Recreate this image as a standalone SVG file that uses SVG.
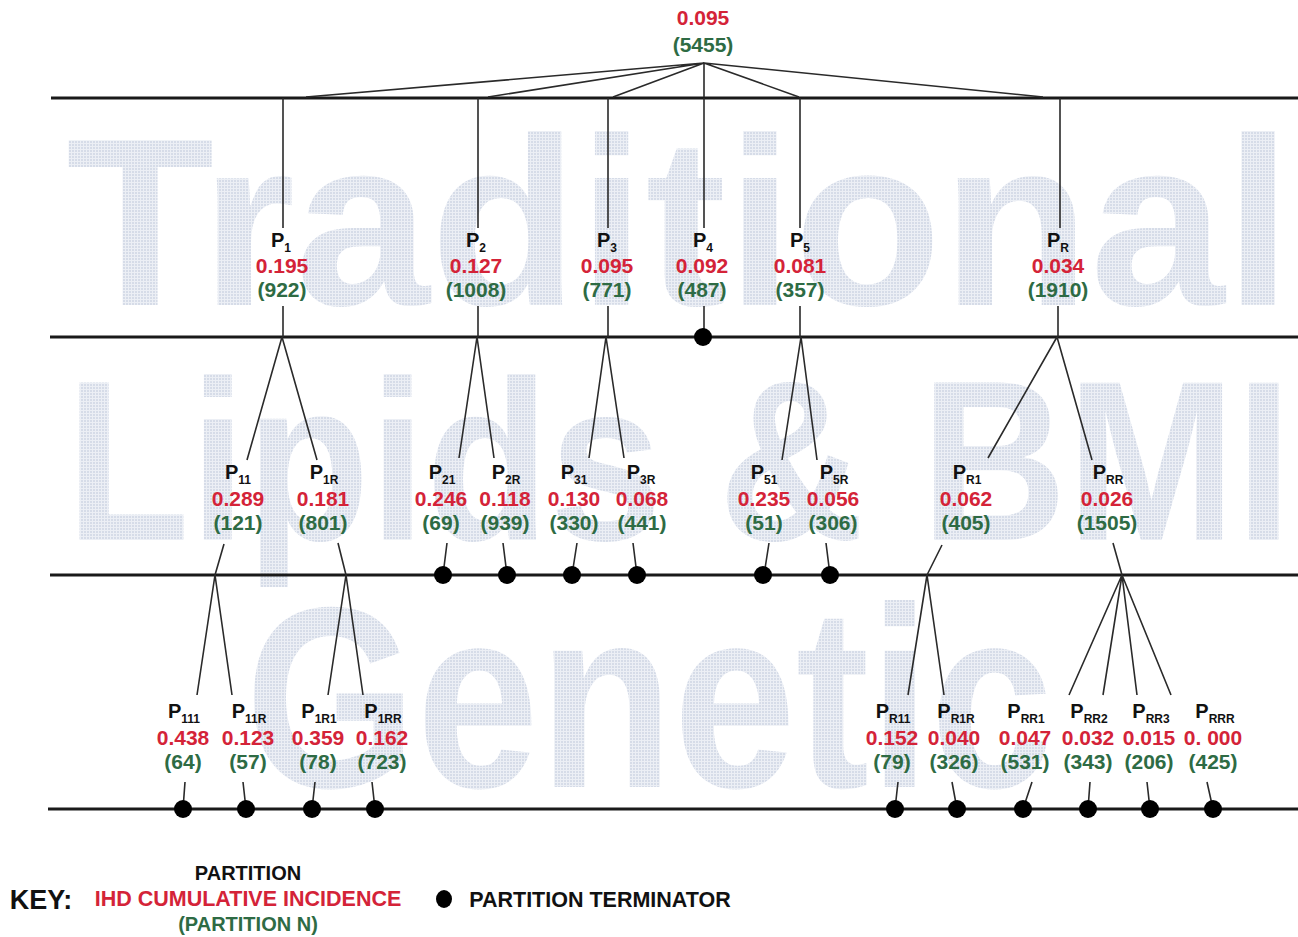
<svg xmlns="http://www.w3.org/2000/svg" width="1298" height="937" viewBox="0 0 1298 937">
<defs>
<pattern id="ht" width="3" height="3" patternUnits="userSpaceOnUse">
<rect width="3" height="3" fill="#eceff5"/>
<rect width="2" height="2" fill="#d6dce8"/>
</pattern>
</defs>
<style>
text{font-family:"Liberation Sans",Arial,Helvetica,sans-serif;font-weight:bold;text-anchor:middle}
.wm{fill:url(#ht);text-anchor:start}
.p{font-size:20px;fill:#111}
.s{font-size:12px}
.r{font-size:21px;fill:#d42338}
.g{font-size:21px;fill:#2e6b44}
.hl{stroke:#1a1a1a;stroke-width:3;fill:none}
.c{stroke:#2a2a2a;stroke-width:1.6;fill:none}
.dot{fill:#000}
</style>
<rect width="1298" height="937" fill="#fff"/>
<g id="watermark">
<text class="wm" x="66" y="305" font-size="240" textLength="1226" lengthAdjust="spacingAndGlyphs">Traditional</text>
<text class="wm" x="66" y="540" font-size="228" textLength="1226" lengthAdjust="spacingAndGlyphs">Lipids &amp; BMI</text>
<text class="wm" x="245" y="787" font-size="258" textLength="808" lengthAdjust="spacingAndGlyphs">Genetic</text>
</g>
<g id="levels">
<line class="hl" x1="51" y1="98" x2="1298" y2="98"/>
<line class="hl" x1="50" y1="337" x2="1298" y2="337"/>
<line class="hl" x1="50" y1="575" x2="1298" y2="575"/>
<line class="hl" x1="48" y1="809" x2="1298" y2="809"/>
</g>
<g id="connectors">
<path class="c" d="M704 63L306 97M704 63L488 97M704 63L613 97M704 63L704 97M704 63L799 97M704 63L1043 97"/>
<path class="c" d="M283 98V228M478 98V228M608 98V228M704 98V228M800 98V228M1060 98V228"/>
<path class="c" d="M283 306V337M478 306V337M608 306V337M704 306V337M800 306V337M1058 306V337"/>
<path class="c" d="M282 337L247 460M282 337L317 460M477 337L459 458M477 337L494 458M606 337L589 458M606 337L624 458M801 337L782 460M801 337L817 460M1057 337L988 458M1057 337L1092 460"/>
<path class="c" d="M224 544L215 575M346 575L338 543M447 543L443 575M503 543L507 575M577 543L572 575M633 543L637 575M769 543L764 575M826 543L830 575M942 545L927 575M1113 543L1122 575"/>
<path class="c" d="M215 575L197 695M215 575L232 695M346 575L328 695M346 575L363 695M927 575L908 695M927 575L944 695M1122 575L1069 695M1122 575L1103 695M1122 575L1137 695M1122 575L1171 695"/>
<path class="c" d="M185 782L183 809M243 782L246 809M315 782L312 809M372 782L375 809M898 782L895 809M952 782L957 809M1032 782L1023 809M1090 782L1088 809M1147 782L1150 809M1207 782L1213 809"/>
</g>
<g id="terminators">
<circle class="dot" cx="703" cy="337" r="9"/>
<circle class="dot" cx="443" cy="575" r="9"/>
<circle class="dot" cx="507" cy="575" r="9"/>
<circle class="dot" cx="572" cy="575" r="9"/>
<circle class="dot" cx="637" cy="575" r="9"/>
<circle class="dot" cx="763" cy="575" r="9"/>
<circle class="dot" cx="830" cy="575" r="9"/>
<circle class="dot" cx="183" cy="809" r="9"/>
<circle class="dot" cx="246" cy="809" r="9"/>
<circle class="dot" cx="312" cy="809" r="9"/>
<circle class="dot" cx="375" cy="809" r="9"/>
<circle class="dot" cx="895" cy="809" r="9"/>
<circle class="dot" cx="957" cy="809" r="9"/>
<circle class="dot" cx="1023" cy="809" r="9"/>
<circle class="dot" cx="1088" cy="809" r="9"/>
<circle class="dot" cx="1150" cy="809" r="9"/>
<circle class="dot" cx="1213" cy="809" r="9"/>
</g>
<g id="root"><text class="r" x="703" y="25">0.095</text><text class="g" x="703" y="52">(5455)</text></g>
<g id="P1"><text class="p" x="281" y="247">P<tspan class="s" dy="5">1</tspan></text><text class="r" x="282" y="273">0.195</text><text class="g" x="282" y="297">(922)</text></g>
<g id="P2"><text class="p" x="476" y="247">P<tspan class="s" dy="5">2</tspan></text><text class="r" x="476" y="273">0.127</text><text class="g" x="476" y="297">(1008)</text></g>
<g id="P3"><text class="p" x="607" y="247">P<tspan class="s" dy="5">3</tspan></text><text class="r" x="607" y="273">0.095</text><text class="g" x="607" y="297">(771)</text></g>
<g id="P4"><text class="p" x="703" y="247">P<tspan class="s" dy="5">4</tspan></text><text class="r" x="702" y="273">0.092</text><text class="g" x="702" y="297">(487)</text></g>
<g id="P5"><text class="p" x="800" y="247">P<tspan class="s" dy="5">5</tspan></text><text class="r" x="800" y="273">0.081</text><text class="g" x="800" y="297">(357)</text></g>
<g id="PR"><text class="p" x="1058" y="247">P<tspan class="s" dy="5">R</tspan></text><text class="r" x="1058" y="273">0.034</text><text class="g" x="1058" y="297">(1910)</text></g>
<g id="P11"><text class="p" x="238" y="479">P<tspan class="s" dy="5">11</tspan></text><text class="r" x="238" y="506">0.289</text><text class="g" x="238" y="530">(121)</text></g>
<g id="P1R"><text class="p" x="324" y="479">P<tspan class="s" dy="5">1R</tspan></text><text class="r" x="323" y="506">0.181</text><text class="g" x="323" y="530">(801)</text></g>
<g id="P21"><text class="p" x="442" y="479">P<tspan class="s" dy="5">21</tspan></text><text class="r" x="441" y="506">0.246</text><text class="g" x="441" y="530">(69)</text></g>
<g id="P2R"><text class="p" x="506" y="479">P<tspan class="s" dy="5">2R</tspan></text><text class="r" x="505" y="506">0.118</text><text class="g" x="505" y="530">(939)</text></g>
<g id="P31"><text class="p" x="574" y="479">P<tspan class="s" dy="5">31</tspan></text><text class="r" x="574" y="506">0.130</text><text class="g" x="574" y="530">(330)</text></g>
<g id="P3R"><text class="p" x="641" y="479">P<tspan class="s" dy="5">3R</tspan></text><text class="r" x="642" y="506">0.068</text><text class="g" x="642" y="530">(441)</text></g>
<g id="P51"><text class="p" x="764" y="479">P<tspan class="s" dy="5">51</tspan></text><text class="r" x="764" y="506">0.235</text><text class="g" x="764" y="530">(51)</text></g>
<g id="P5R"><text class="p" x="834" y="479">P<tspan class="s" dy="5">5R</tspan></text><text class="r" x="833" y="506">0.056</text><text class="g" x="833" y="530">(306)</text></g>
<g id="PR1"><text class="p" x="967" y="479">P<tspan class="s" dy="5">R1</tspan></text><text class="r" x="966" y="506">0.062</text><text class="g" x="966" y="530">(405)</text></g>
<g id="PRR"><text class="p" x="1108" y="479">P<tspan class="s" dy="5">RR</tspan></text><text class="r" x="1107" y="506">0.026</text><text class="g" x="1107" y="530">(1505)</text></g>
<g id="P111"><text class="p" x="184" y="718">P<tspan class="s" dy="5">111</tspan></text><text class="r" x="183" y="745">0.438</text><text class="g" x="183" y="769">(64)</text></g>
<g id="P11R"><text class="p" x="249" y="718">P<tspan class="s" dy="5">11R</tspan></text><text class="r" x="248" y="745">0.123</text><text class="g" x="248" y="769">(57)</text></g>
<g id="P1R1"><text class="p" x="319" y="718">P<tspan class="s" dy="5">1R1</tspan></text><text class="r" x="318" y="745">0.359</text><text class="g" x="318" y="769">(78)</text></g>
<g id="P1RR"><text class="p" x="383" y="718">P<tspan class="s" dy="5">1RR</tspan></text><text class="r" x="382" y="745">0.162</text><text class="g" x="382" y="769">(723)</text></g>
<g id="PR11"><text class="p" x="893" y="718">P<tspan class="s" dy="5">R11</tspan></text><text class="r" x="892" y="745">0.152</text><text class="g" x="892" y="769">(79)</text></g>
<g id="PR1R"><text class="p" x="956" y="718">P<tspan class="s" dy="5">R1R</tspan></text><text class="r" x="954" y="745">0.040</text><text class="g" x="954" y="769">(326)</text></g>
<g id="PRR1"><text class="p" x="1026" y="718">P<tspan class="s" dy="5">RR1</tspan></text><text class="r" x="1025" y="745">0.047</text><text class="g" x="1025" y="769">(531)</text></g>
<g id="PRR2"><text class="p" x="1089" y="718">P<tspan class="s" dy="5">RR2</tspan></text><text class="r" x="1088" y="745">0.032</text><text class="g" x="1088" y="769">(343)</text></g>
<g id="PRR3"><text class="p" x="1151" y="718">P<tspan class="s" dy="5">RR3</tspan></text><text class="r" x="1149" y="745">0.015</text><text class="g" x="1149" y="769">(206)</text></g>
<g id="PRRR"><text class="p" x="1215" y="718">P<tspan class="s" dy="5">RRR</tspan></text><text class="r" x="1213" y="745">0. 000</text><text class="g" x="1213" y="769">(425)</text></g>
<g id="key">
<text x="41" y="909" style="font-size:27px;fill:#111">KEY:</text>
<text x="248" y="880" style="font-size:20px;fill:#111">PARTITION</text>
<text x="248" y="906" style="font-size:21.5px;fill:#d42338">IHD CUMULATIVE INCIDENCE</text>
<text x="248" y="931" style="font-size:20px;fill:#2e6b44">(PARTITION N)</text>
<ellipse cx="444" cy="899" rx="8" ry="9" fill="#000"/>
<text x="600" y="907" style="font-size:21.5px;fill:#111">PARTITION TERMINATOR</text>
</g>
</svg>
